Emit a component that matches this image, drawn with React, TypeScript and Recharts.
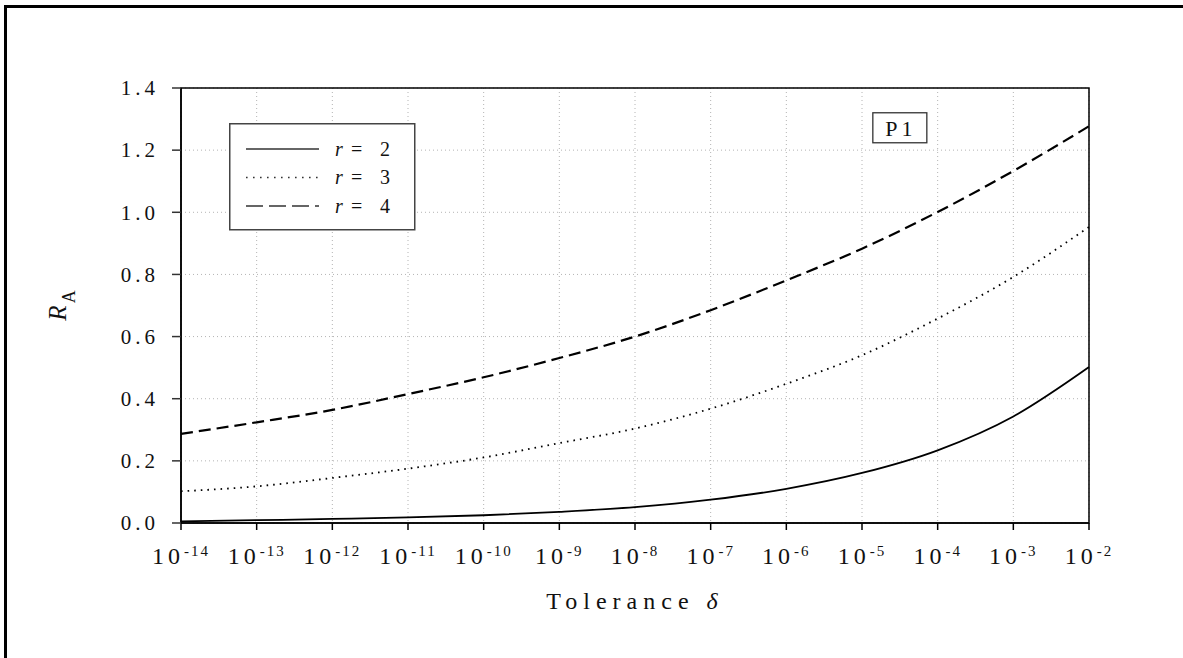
import React from "react";
import { LineChart, Line, XAxis, YAxis, CartesianGrid, Legend, ReferenceArea, ReferenceDot } from "recharts";

// log10 of the tolerance, one point per decade
const exponents = [-14, -13, -12, -11, -10, -9, -8, -7, -6, -5, -4, -3, -2];
const yTicks = [0, 0.2, 0.4, 0.6, 0.8, 1.0, 1.2, 1.4];

// R_A
const r2Values = [0.005, 0.009, 0.013, 0.018, 0.025, 0.036, 0.051, 0.075, 0.11, 0.161, 0.234, 0.343, 0.502];
const r3Values = [0.102, 0.118, 0.145, 0.175, 0.211, 0.257, 0.304, 0.368, 0.448, 0.54, 0.658, 0.792, 0.953];
const r4Values = [0.287, 0.324, 0.364, 0.415, 0.469, 0.531, 0.6, 0.685, 0.781, 0.883, 1.001, 1.133, 1.277];

const seriesLabels = ["2", "3", "4"];
const panelLabel = "P1";

const data = exponents.map((e, i) => ({ e, r2: r2Values[i], r3: r3Values[i], r4: r4Values[i] }));

const FONT = "'Liberation Serif', 'Times New Roman', serif";

const styles = [
  { key: "r2", dash: undefined, legendDash: undefined, width: 1.8 },
  { key: "r3", dash: "1.6 5", legendDash: "1.6 5.4", width: 1.8 },
  { key: "r4", dash: "12 6", legendDash: "17 6", width: 2.2 },
];

function XTick({ x, y, payload }: any) {
  return (
    <text x={x} y={y} textAnchor="middle" fontFamily={FONT} fill="#111">
      <tspan fontSize={24} letterSpacing={4}>10</tspan>
      <tspan fontSize={15} letterSpacing={2} dy={-8}>{String(payload.value)}</tspan>
    </text>
  );
}

function YTick({ x, y, payload }: any) {
  return (
    <text x={x} y={y} dy="0.35em" textAnchor="end" fontFamily={FONT} fontSize={21} letterSpacing={4} fill="#111">
      {Number(payload.value).toFixed(1)}
    </text>
  );
}

function XLabel({ viewBox }: any) {
  const { x, y, width } = viewBox;
  return (
    <text x={x + width / 2} y={y + 86} textAnchor="middle" fontFamily={FONT} fontSize={24} letterSpacing={6} fill="#111">
      Tolerance <tspan fontStyle="italic">δ</tspan>
    </text>
  );
}

function YLabel({ viewBox }: any) {
  const { x, y, height } = viewBox;
  const cx = x + 66;
  const cy = y + height / 2;
  return (
    <text x={cx} y={cy} textAnchor="middle" transform={`rotate(-90 ${cx} ${cy})`} fontFamily={FONT} fill="#111">
      <tspan fontSize={25} fontStyle="italic">R</tspan>
      <tspan fontSize={18} dx={2} dy={9}>A</tspan>
    </text>
  );
}

function LegendBox() {
  return (
    <svg width={187} height={108} style={{ display: "block" }}>
      <rect x={0.75} y={0.75} width={185} height={106} fill="#fff" stroke="#444" strokeWidth={1.5} />
      {styles.map((s, i) => {
        const ly = 26 + i * 28.5;
        return (
          <g key={s.key}>
            <line x1={17} x2={90} y1={ly} y2={ly} stroke="#333" strokeWidth={1.6} strokeDasharray={s.legendDash} />
            <text y={ly + 6.5} fontFamily={FONT} fontSize={20} fill="#111">
              <tspan x={106} fontStyle="italic">r</tspan>
              <tspan x={122}>=</tspan>
              <tspan x={151}>{seriesLabels[i]}</tspan>
            </text>
          </g>
        );
      })}
    </svg>
  );
}

function PanelTag({ cx, cy }: any) {
  return (
    <g>
      <rect x={cx - 27} y={cy - 15} width={54} height={30} fill="#fff" stroke="#333" strokeWidth={1.3} />
      <text x={cx + 1} y={cy + 8} textAnchor="middle" fontFamily={FONT} fontSize={22} letterSpacing={4} fill="#111">
        {panelLabel}
      </text>
    </g>
  );
}

export default function App() {
  return (
    <div style={{ position: "absolute", left: 0, top: 0, width: 1183, height: 658, background: "#fff" }}>
      <div
        style={{
          position: "absolute",
          left: 4,
          top: 5,
          width: 1179,
          height: 653,
          borderLeft: "3px solid #000",
          borderTop: "3px solid #000",
          boxSizing: "border-box",
        }}
      />
      <LineChart
        width={1183}
        height={658}
        data={data}
        margin={{ top: 88, right: 94, bottom: 75, left: 0 }}
        style={{ position: "absolute", left: 0, top: 0 }}
      >
        <CartesianGrid stroke="#b4b4b4" strokeDasharray="1 3" />
        <XAxis
          dataKey="e"
          type="number"
          domain={[-14, -2]}
          ticks={exponents}
          interval={0}
          height={60}
          tickSize={7}
          tickMargin={34}
          tick={<XTick />}
          tickLine={{ stroke: "#000", strokeWidth: 1.5 }}
          axisLine={{ stroke: "#000", strokeWidth: 1.5 }}
          label={<XLabel />}
        />
        <YAxis
          type="number"
          domain={[0, 1.4]}
          ticks={yTicks}
          interval={0}
          width={181}
          tickSize={9}
          tickMargin={13}
          tick={<YTick />}
          tickLine={{ stroke: "#333", strokeWidth: 1.5 }}
          axisLine={{ stroke: "#000", strokeWidth: 1.5 }}
          label={<YLabel />}
        />
        <ReferenceArea x1={-14} x2={-2} y1={0} y2={1.4} fill="none" fillOpacity={0} stroke="#000" strokeWidth={1.5} />
        {styles.map((s) => (
          <Line
            key={s.key}
            type="monotone"
            dataKey={s.key}
            stroke="#000"
            strokeWidth={s.width}
            strokeDasharray={s.dash}
            dot={false}
            activeDot={false}
            isAnimationActive={false}
          />
        ))}
        <ReferenceDot x={-4.5} y={1.272} r={0} shape={(p: any) => <PanelTag {...p} />} />
        <Legend
          layout="vertical"
          align="center"
          verticalAlign="middle"
          content={() => <LegendBox />}
          wrapperStyle={{ left: 229, top: 123, width: 187, height: 108 }}
        />
      </LineChart>
    </div>
  );
}
